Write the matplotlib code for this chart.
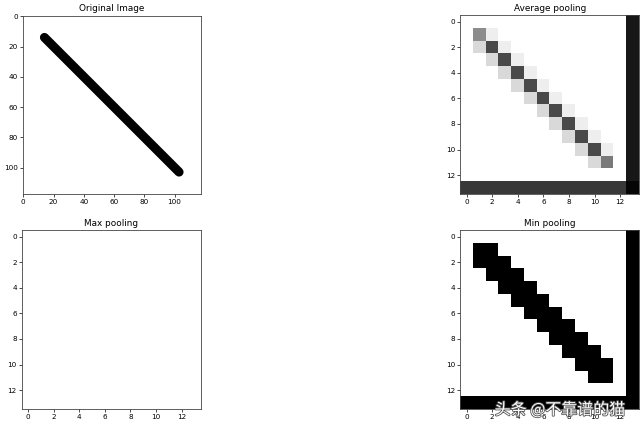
import numpy as np
import matplotlib
matplotlib.use('Agg')
import matplotlib.pyplot as plt
import matplotlib.patheffects as pe

# Original image: one thick diagonal stroke
img_size = 118
line_x = [14, 103]
line_y = [14, 103]
line_thick = 6          # in image pixels

# Pooled grids (14 x 14) (0 = black, 1 = white)
n_cells = 14
diag_rows = list(range(1, 12))
avg_diag = [0.55, 0.29, 0.29, 0.29, 0.29, 0.29, 0.29, 0.29, 0.29, 0.29, 0.48]
avg_below = 0.85        # cell left of the diagonal
avg_above = 0.93        # cell right of the diagonal
avg_last_row = 0.22
avg_last_col = 0.09
avg_corner = 0.02

watermark = '头条 @不靠谱的猫'

W, H = 640, 432
fig = plt.figure(figsize=(W / 100, H / 100), dpi=100)

def add_ax(l, t, s):
    return fig.add_axes([l / W, 1 - (t + s) / H, s / W, s / H])

def style(ax, title):
    ax.set_title(title, fontsize=6.4, pad=3)
    ax.tick_params(labelsize=5.2, length=2, width=0.5, pad=1.5)
    for sp in ax.spines.values():
        sp.set_linewidth(0.6)
        sp.set_color('#444444')

# build pooled grids
avg = np.ones((n_cells, n_cells))
mn = np.ones((n_cells, n_cells))
for i, r in enumerate(diag_rows):
    avg[r, r] = avg_diag[i]
    mn[r, r] = 0
    if r > diag_rows[0]:
        avg[r, r - 1] = avg_below
        mn[r, r - 1] = 0
    if r < diag_rows[-1]:
        avg[r, r + 1] = avg_above
        mn[r, r + 1] = 0
avg[-1, :] = avg_last_row
avg[:, -1] = avg_last_col
avg[-1, -1] = avg_corner
mn[-1, :] = 0
mn[:, -1] = 0
mx = np.ones((n_cells, n_cells))

#Original
ax1 = add_ax(22.5, 15.5, 178.5)
ax1.imshow(np.ones((img_size, img_size)), cmap='gray', vmin=0, vmax=1)
px_per_unit = 178.5 / img_size
ax1.plot(line_x, line_y, color='black', solid_capstyle='round',
         linewidth=line_thick * px_per_unit * 72 / 100)
ax1.set_xlim(-0.5, img_size - 0.5)
ax1.set_ylim(img_size - 0.5, -0.5)
ax1.set_xticks(range(0, 101, 20))
ax1.set_yticks(range(0, 101, 20))
style(ax1, 'Original Image')

#Average pooling
ax2 = add_ax(460.3, 15.3, 179)
ax2.imshow(avg, cmap='gray', vmin=0, vmax=1, interpolation='nearest')
style(ax2, 'Average pooling')

#Max pooling
ax3 = add_ax(21.7, 230.3, 179)
ax3.imshow(mx, cmap='gray', vmin=0, vmax=1, interpolation='nearest')
style(ax3, 'Max pooling')

#Min pooling
ax4 = add_ax(460.3, 230.3, 179)
ax4.imshow(mn, cmap='gray', vmin=0, vmax=1, interpolation='nearest')
style(ax4, 'Min pooling')

fig.text(560 / W, 1 - 410 / H, watermark, color='white', fontsize=11.5,
         ha='center', va='center', family=['Noto Sans CJK SC', 'DejaVu Sans'],
         path_effects=[pe.withStroke(linewidth=1.2, foreground='#555555')])

fig.savefig('out.png', dpi=100)
